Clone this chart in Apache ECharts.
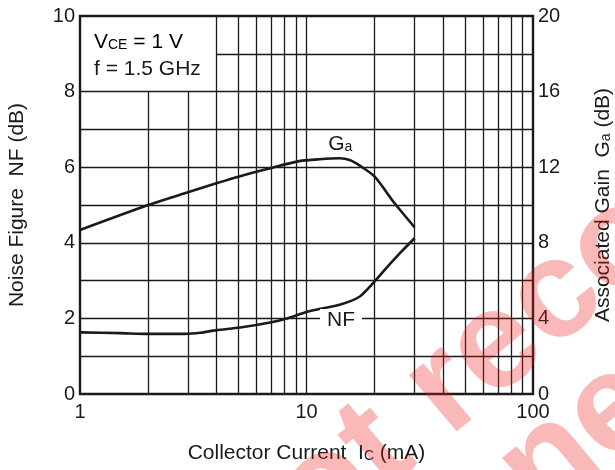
<!DOCTYPE html>
<html>
<head>
<meta charset="utf-8">
<script src="https://cdn.jsdelivr.net/npm/echarts@6/dist/echarts.min.js"></script>
<style>
  html, body { margin: 0; padding: 0; background: #fff; }
  #chart { width: 615px; height: 470px; }
</style>
</head>
<body>
<div id="chart"></div>
<script>
// Collector current (mA) sample points for each curve
const nfCurrent = [1, 1.5, 2, 2.9, 3.4, 4, 5.1, 7, 8.2, 10, 11.4, 14, 17.2, 20, 22.5, 25.8, 30];
// Noise figure NF (dB), left axis
const noiseFigure = [1.63, 1.61, 1.59, 1.59, 1.62, 1.69, 1.76, 1.9, 2.0, 2.17, 2.25, 2.36, 2.58, 2.98, 3.33, 3.72, 4.12];

const gaCurrent = [1, 2, 2.9, 4, 5, 6.9, 9.3, 11.4, 14, 15.5, 17.2, 20, 24.5, 30];
// Associated gain Ga (dB), right axis
const assocGain = [8.68, 10.0, 10.62, 11.15, 11.5, 11.94, 12.32, 12.42, 12.47, 12.38, 12.08, 11.5, 10.09, 8.82];

// Log-grid rulings on the current axis
const xGridFull = [4, 5, 6, 7, 8, 9, 10, 20, 30, 40, 50, 60, 70, 80, 90];
const xGridShort = [2, 3];          // stop below the condition box
const yGridFull = [1, 2, 3, 4, 5, 6, 7, 8];
const yGridShort = [9];             // starts right of the condition box

const FONT = "'Liberation Sans', Arial, Helvetica, sans-serif";
const INK = '#1a1a1a';
const FS = 21;      // titles and annotations
const TICK_FS = 20; // axis numbers

const sub = { fontSize: 14, fontFamily: FONT, color: INK, verticalAlign: 'bottom', padding: [0, 0, 1, 0] };
const base = { fontSize: FS, fontFamily: FONT, color: INK, verticalAlign: 'bottom' };

const gridLineData = [];
xGridFull.forEach(v => gridLineData.push({ xAxis: v }));
xGridShort.forEach(v => gridLineData.push([{ coord: [v, 0] }, { coord: [v, 8] }]));
yGridFull.forEach(v => gridLineData.push({ yAxis: v }));
yGridShort.forEach(v => gridLineData.push([{ coord: [4, v] }, { coord: [100, v] }]));

const chart = echarts.init(document.getElementById('chart'), null, { renderer: 'canvas' });

const WATERMARK = 'rgba(235, 30, 30, 0.31)';

chart.setOption({
  animation: false,
  backgroundColor: '#fff',
  grid: {
    left: 80, right: 82, top: 16, bottom: 76,
    outerBoundsMode: 'none',
    show: true, borderColor: INK, borderWidth: 2.4, backgroundColor: 'transparent', z: 5
  },
  xAxis: {
    type: 'log', logBase: 10, min: 1, max: 100,
    axisLine: { show: false }, axisTick: { show: false }, splitLine: { show: false },
    axisLabel: { fontSize: TICK_FS, fontFamily: FONT, color: INK, margin: 8 },
    name: '{b|Collector Current  I}{s|C}{b| (mA)}',
    nameLocation: 'middle', nameGap: 49,
    nameTextStyle: { rich: { b: base, s: sub } }
  },
  yAxis: [
    {
      type: 'value', min: 0, max: 10, interval: 2,
      axisLine: { show: false }, axisTick: { show: false }, splitLine: { show: false },
      axisLabel: { fontSize: TICK_FS, fontFamily: FONT, color: INK, margin: 5 },
      name: 'Noise Figure  NF (dB)',
      nameLocation: 'middle', nameGap: 52, nameRotate: 90,
      nameTextStyle: { fontSize: FS, fontFamily: FONT, color: INK }
    },
    {
      type: 'value', min: 0, max: 20, interval: 4, position: 'right',
      axisLine: { show: false }, axisTick: { show: false }, splitLine: { show: false },
      axisLabel: { fontSize: TICK_FS, fontFamily: FONT, color: INK, margin: 5 },
      name: '{b|Associated Gain  G}{s|a}{b| (dB)}',
      nameLocation: 'middle', nameGap: 60, nameRotate: 90,
      nameTextStyle: { rich: { b: base, s: sub } }
    }
  ],
  series: [
    {
      name: 'grid',
      type: 'line',
      data: [],
      z: 1,
      silent: true,
      markLine: {
        silent: true,
        symbol: 'none',
        label: { show: false },
        lineStyle: { color: INK, width: 1.3, type: 'solid' },
        emphasis: { disabled: true },
        data: gridLineData
      }
    },
    {
      name: 'NF',
      type: 'line',
      yAxisIndex: 0,
      data: nfCurrent.map((c, i) => [c, noiseFigure[i]]),
      showSymbol: false,
      smooth: 0.25,
      z: 3,
      lineStyle: { color: INK, width: 2.6 },
      markPoint: {
        symbol: 'rect', symbolSize: 0,
        label: {
          show: true, position: 'inside', formatter: 'NF',
          fontSize: FS, fontFamily: FONT, color: INK,
          backgroundColor: '#fff', padding: [1, 7, 0, 7]
        },
        data: [{ coord: [14.2, 1.96] }]
      }
    },
    {
      name: 'Ga',
      type: 'line',
      yAxisIndex: 1,
      data: gaCurrent.map((c, i) => [c, assocGain[i]]),
      showSymbol: false,
      smooth: 0.25,
      z: 3,
      lineStyle: { color: INK, width: 2.6 },
      markPoint: {
        symbol: 'rect', symbolSize: 0,
        label: {
          show: true, position: 'inside',
          formatter: '{b|G}{s|a}',
          rich: { b: base, s: sub }
        },
        data: [{ coord: [14.1, 13.2] }]
      }
    }
  ],
  graphic: [
    {
      type: 'text', left: 94, top: 32, z: 10,
      style: {
        text: '{b|V}{s|CE}{b| = 1 V}',
        rich: { b: base, s: sub }
      }
    },
    {
      type: 'text', left: 94, top: 59, z: 10,
      style: { text: 'f = 1.5 GHz', fontSize: FS, fontFamily: FONT, fill: INK }
    },
    {
      type: 'text', x: 216, y: 583, rotation: 40 * Math.PI / 180, z: 20, silent: true,
      style: {
        text: 'Not recommended', fontSize: 140, fontWeight: 'bold', fontFamily: FONT,
        fill: WATERMARK, align: 'left', verticalAlign: 'middle'
      }
    },
    {
      type: 'text', x: 345, y: 636, rotation: 40 * Math.PI / 180, z: 20, silent: true,
      style: {
        text: 'for new design', fontSize: 140, fontWeight: 'bold', fontFamily: FONT,
        fill: WATERMARK, align: 'left', verticalAlign: 'middle'
      }
    }
  ]
});
</script>
</body>
</html>
